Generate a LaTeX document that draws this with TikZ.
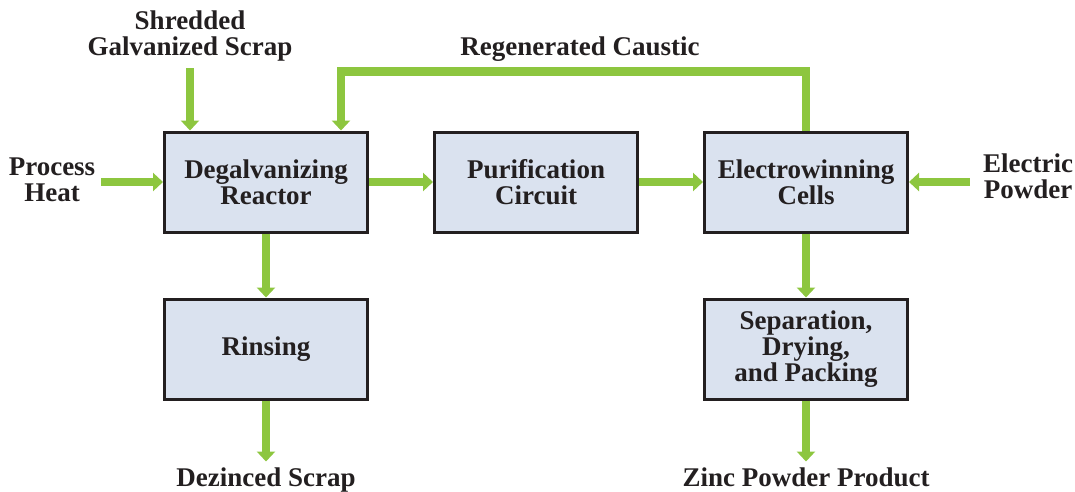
\documentclass[tikz,border=0pt]{standalone}
\usepackage{fontspec}
\setmainfont{Liberation Serif}
\usepackage{xcolor}
\usepackage{tikz}
\usetikzlibrary{arrows.meta, positioning}
\definecolor{flowgreen}{HTML}{8DC63F}
\definecolor{unitbg}{HTML}{DAE2EF}
\definecolor{inkdark}{HTML}{231F20}

\begin{document}
\begin{tikzpicture}[
  x=1pt, y=1pt,
  node distance=64pt and 64pt,
  box/.style={rectangle, draw=inkdark, line width=3pt, fill=unitbg,
               minimum width=203pt, minimum height=100pt, align=center,
               font=\fontsize{27pt}{26pt}\selectfont\bfseries, text=inkdark},
  note/.style={align=center, inner sep=4pt,
               font=\fontsize{27pt}{26pt}\selectfont\bfseries, text=inkdark},
  flow/.style={-{Triangle[width=18pt, length=10pt]}, line width=8.5pt, color=flowgreen}
]
  \useasboundingbox (0,0) rectangle (1075,491);

  % process units
  \node[box] (reactor) at (266,309) {Degalvanizing\\Reactor};
  \node[box, right=of reactor] (purif)   {Purification\\Circuit};
  \node[box, right=of purif]   (electro) {Electrowinning\\Cells};
  \node[box, below=of reactor] (rinse)   {Rinsing};
  \node[box, below=of electro] (pack)    {Separation,\\Drying,\\and Packing};

  % inputs and outputs
  \node[note, inner ysep=7pt] (scrapin) at (190,455) {Shredded\\Galvanized Scrap};
  \node[note, inner xsep=6pt] (heat) at (52,311) {Process\\Heat};
  \node[note, inner xsep=13pt] (power) at (1028,315) {Electric\\Powder};
  \node[note] (caustic) at (580,442) {Regenerated Caustic};
  \node[note, inner ysep=6pt, below=61pt of rinse] (dezinced) {Dezinced Scrap};
  \node[note, inner ysep=6pt, below=61pt of pack]  (zinc)     {Zinc Powder Product};

  \draw[flow] (scrapin.south) -- (scrapin.south |- reactor.north);
  \draw[flow] (heat.east |- reactor) -- (reactor.west);
  \draw[flow] (reactor) -- (purif);
  \draw[flow] (purif) -- (electro);
  \draw[flow] (power.west |- electro) -- (electro.east);
  \draw[flow] (electro.north) -- ++(0,59) -| ([xshift=75pt]reactor.north);
  \draw[flow] (reactor) -- (rinse);
  \draw[flow] (electro) -- (pack);
  \draw[flow] (rinse) -- (dezinced);
  \draw[flow] (pack) -- (zinc);
\end{tikzpicture}
\end{document}
